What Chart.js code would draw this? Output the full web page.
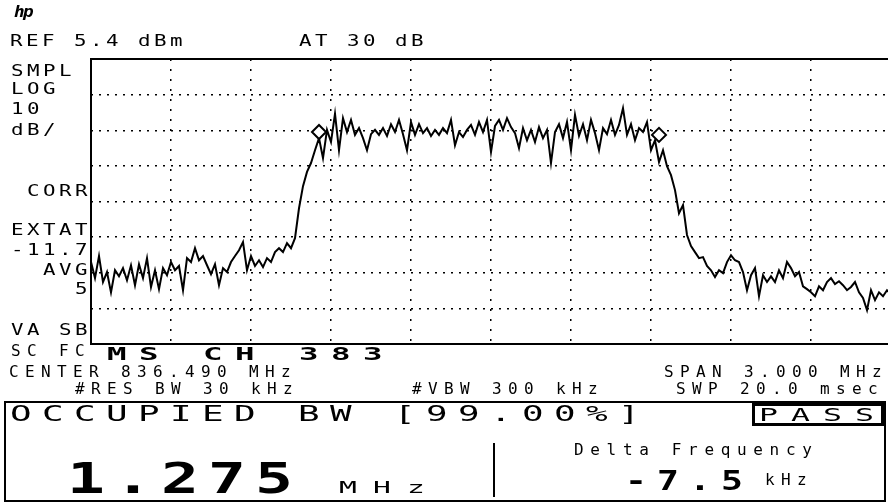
<!DOCTYPE html>
<html>
<head>
<meta charset="utf-8">
<script src="https://cdn.jsdelivr.net/npm/chart.js@4.4.0/dist/chart.umd.min.js"></script>
<style>
  html, body { margin: 0; padding: 0; background: #fff; overflow: hidden; width: 888px; height: 504px; }
  #wrap { position: relative; width: 888px; height: 504px; overflow: hidden; }
  canvas { position: absolute; left: 0; top: 0; }
  .t { position: absolute; white-space: pre; color: #000; font-family: "DejaVu Sans Mono", monospace; line-height: 1; transform-origin: 0 0; }
  .b { font-weight: bold; }
  .box { position: absolute; border: 2px solid #000; box-sizing: border-box; }
</style>
</head>
<body>
<div id="wrap">
  <canvas id="sa" width="900" height="504"></canvas>
</div>
<script>
// analyzer settings
const REF_DBM = 5.4;
const DB_PER_DIV = 10;
const CENTER_MHZ = 836.490;
const SPAN_MHZ = 3.000;

// trace, dBm, evenly spaced across the span
const TRACE_DBM = [
  -51.6, -56.1, -49.9, -57.2, -54.4, -60.1, -53.9, -55.6, -53.3, -56.7,
  -52.5, -58.1, -52.2, -56.1, -50.5, -58.6, -53.9, -59.2, -53.3, -55.3,
  -51.6, -53.9, -52.7, -59.5, -50.5, -51.6, -47.7, -51.1, -49.9, -52.5,
  -55.0, -52.2, -58.1, -53.3, -54.4, -51.6, -49.9, -48.3, -46.0, -53.9,
  -49.9, -52.7, -51.1, -53.0, -50.5, -51.6, -48.8, -47.7, -48.8, -46.3,
  -47.7, -44.9, -36.5, -30.3, -26.3, -23.8, -20.2, -16.8, -22.4, -14.5,
  -17.9, -10.0, -20.2, -11.2, -15.1, -11.7, -15.9, -14.0, -16.8, -20.2,
  -15.7, -14.5, -15.9, -14.0, -16.2, -12.9, -15.1, -11.7, -15.7, -20.2,
  -12.3, -15.9, -12.9, -15.4, -14.0, -16.2, -14.5, -15.9, -14.0, -15.4,
  -11.7, -18.8, -15.1, -16.5, -14.5, -13.1, -15.9, -12.3, -15.1, -11.7,
  -20.7, -13.4, -11.7, -14.5, -11.2, -13.7, -15.4, -19.6, -14.0, -17.4,
  -14.5, -17.9, -13.7, -16.8, -14.5, -23.8, -15.1, -12.9, -16.8, -12.3,
  -20.2, -10.3, -16.2, -12.9, -17.4, -11.7, -15.4, -20.2, -14.0, -15.7,
  -11.7, -15.9, -13.1, -8.4, -15.9, -12.9, -17.4, -14.0, -15.1, -12.3,
  -20.2, -17.4, -23.5, -20.2, -24.7, -27.2, -31.4, -37.9, -35.6, -44.0,
  -47.1, -48.8, -50.5, -50.2, -52.7, -53.9, -55.8, -53.9, -54.7, -51.6,
  -49.7, -51.1, -51.6, -54.4, -59.5, -55.3, -53.3, -61.2, -55.3, -57.2,
  -55.6, -57.2, -53.9, -56.1, -51.6, -53.3, -55.6, -54.4, -58.4, -59.2,
  -60.1, -61.2, -58.4, -59.5, -57.2, -56.1, -57.8, -57.0, -58.1, -59.5,
  -58.6, -57.2, -60.1, -61.7, -65.1, -59.5, -62.3, -60.1, -61.2, -59.5,
  -60.6
];

// occupied bandwidth markers
const MARKER_MHZ = [835.845, 837.120];
const MARKER_DBM = [-15.1, -15.9];

const startMHz = CENTER_MHZ - SPAN_MHZ / 2;
const stepMHz = SPAN_MHZ / (TRACE_DBM.length - 1);
const bottomDbm = REF_DBM - 8 * DB_PER_DIV;

const tracePts = TRACE_DBM.map((v, i) => ({ x: startMHz + i * stepMHz, y: v }));
const markerPts = MARKER_MHZ.map((f, i) => ({ x: f, y: MARKER_DBM[i] }));

const frame = {
  id: 'frame',
  afterDraw(chart) {
    const a = chart.chartArea, ctx = chart.ctx;
    ctx.save();
    ctx.strokeStyle = '#000';
    ctx.lineWidth = 2;
    ctx.strokeRect(a.left, a.top, a.right - a.left, a.bottom - a.top);
    ctx.restore();
  }
};

new Chart(document.getElementById('sa').getContext('2d'), {
  type: 'line',
  data: {
    datasets: [
      {
        data: markerPts,
        showLine: false,
        pointStyle: 'rectRot',
        pointRadius: 7,
        pointBorderWidth: 2,
        pointBorderColor: '#000',
        pointBackgroundColor: '#fff'
      },
      {
        data: tracePts,
        borderColor: '#000',
        borderWidth: 2,
        pointRadius: 0,
        tension: 0
      }
    ]
  },
  options: {
    responsive: false,
    animation: false,
    devicePixelRatio: 1,
    layout: { padding: { left: 91, top: 59, right: 9, bottom: 160 } },
    plugins: { legend: { display: false }, tooltip: { enabled: false } },
    scales: {
      x: {
        type: 'linear',
        min: startMHz,
        max: startMHz + SPAN_MHZ,
        afterBuildTicks: s => { s.ticks = Array.from({ length: 11 }, (_, k) => ({ value: startMHz + k * SPAN_MHZ / 10 })); },
        ticks: { display: false },
        grid: { color: '#000', lineWidth: 1.5, drawTicks: false },
        border: { display: false, dash: [2, 8] }
      },
      y: {
        type: 'linear',
        min: bottomDbm,
        max: REF_DBM,
        afterBuildTicks: s => { s.ticks = Array.from({ length: 9 }, (_, k) => ({ value: REF_DBM - k * DB_PER_DIV })); },
        ticks: { display: false },
        grid: { color: '#000', lineWidth: 1.5, drawTicks: false },
        border: { display: false, dash: [2, 6] }
      }
    }
  },
  plugins: [frame]
});

// screen annotations
const wrap = document.getElementById('wrap');
function txt(s, x, capTop, size, pitch, sx, bold, extra) {
  sx = sx || 1;
  const d = document.createElement('div');
  d.className = bold ? 't b' : 't';
  d.textContent = s;
  d.style.fontSize = size + 'px';
  d.style.left = (x - 1) + 'px';
  d.style.top = (capTop - 0.117 * size) + 'px';
  d.style.letterSpacing = (pitch / sx - 0.602 * size) + 'px';
  if (sx !== 1) d.style.transform = 'scaleX(' + sx + ')';
  if (extra) Object.assign(d.style, extra);
  wrap.appendChild(d);
  return d;
}
function box(x, y, w, h, bw) {
  const d = document.createElement('div');
  d.className = 'box';
  Object.assign(d.style, { left: x + 'px', top: y + 'px', width: w + 'px', height: h + 'px', borderWidth: (bw || 2) + 'px' });
  wrap.appendChild(d);
}

txt('hp', 15, 6, 16, 9, 1.1, true, { fontStyle: 'italic' });
txt('REF 5.4 dBm', 11, 35, 16, 16, 1.3);
txt('AT 30 dB', 300, 35, 16, 16, 1.3);
txt('SMPL', 12, 65, 16, 16, 1.3);
txt('LOG', 12, 83, 16, 16, 1.3);
txt('10', 12, 103, 16, 16, 1.3);
txt('dB/', 12, 124, 16, 16, 1.3);
txt('CORR', 28, 185, 16, 16, 1.3);
txt('EXTAT', 12, 224, 16, 16, 1.3);
txt('-11.7', 12, 244, 16, 16, 1.3);
txt('AVG', 44, 264, 16, 16, 1.3);
txt('5', 76, 283, 16, 16, 1.3);
txt('VA SB', 12, 324, 16, 16, 1.3);
txt('SC FC', 12, 345, 16, 16);
txt('MS CH 383', 108, 347, 18, 32, 1.8, true);
txt('CENTER 836.490 MHz', 10, 366, 16, 16);
txt('SPAN 3.000 MHz', 665, 366, 16, 16);
txt('#RES BW 30 kHz', 76, 383, 16, 16);
txt('#VBW 300 kHz', 413, 383, 16, 16);
txt('SWP 20.0 msec', 677, 383, 16, 16);

box(4, 401, 882, 101, 2);
box(752, 403, 132, 23, 3);
txt('OCCUPIED BW [99.00%]', 11, 406, 20.5, 32, 1.75);
txt('PASS', 760, 408, 18, 32, 1.75);
const div = document.createElement('div');
Object.assign(div.style, { position: 'absolute', left: '493px', top: '443px', width: '1.5px', height: '54px', background: '#000' });
wrap.appendChild(div);
txt('1.275', 68, 463, 42, 47, 1.5, true);
txt('MHz', 340, 482, 16.5, 34, 1.8);
txt('Delta Frequency', 575, 444, 16, 16.3);
txt('-7.5', 626, 471, 26, 32, 1.4, true);
txt('kHz', 766, 474, 16, 16);
</script>
</body>
</html>
